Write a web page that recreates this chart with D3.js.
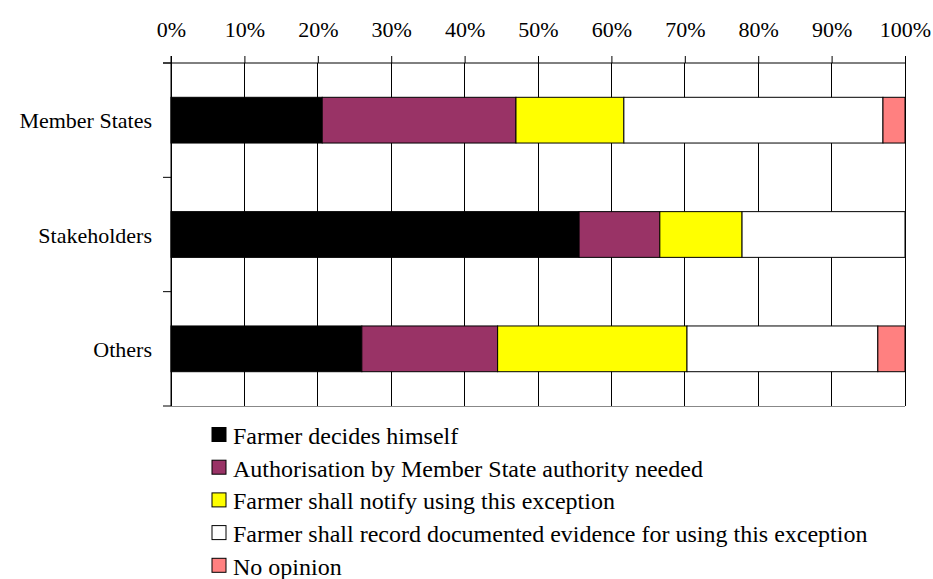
<!DOCTYPE html>
<html>
<head>
<meta charset="utf-8">
<script src="https://cdn.jsdelivr.net/npm/d3@7"></script>
<style>
  body { margin: 0; background: #fff; }
  svg { display: block; font-family: "Liberation Serif", "Times New Roman", serif; }
</style>
</head>
<body>
<div class="root"></div>
<script>
var categories = ['Member States', 'Stakeholders', 'Others'];
var seriesNames = [
  'Farmer decides himself',
  'Authorisation by Member State authority needed',
  'Farmer shall notify using this exception',
  'Farmer shall record documented evidence for using this exception',
  'No opinion'
];
var seriesColors = ['#000000', '#993366', '#ffff00', '#ffffff', '#ff8080'];

// percent per category, in series order
var farmerDecides = [20.6, 55.6, 26.0];
var authorisation = [26.4, 11.0, 18.5];
var notify        = [14.7, 11.2, 25.8];
var record        = [35.3, 22.2, 26.0];
var noOpinion     = [3.0, 0.0, 3.7];

var tickValues = [0, 10, 20, 30, 40, 50, 60, 70, 80, 90, 100];

var w = 933, h = 579;
var mLeft = 171, mRight = 905, mTop = 63, mBottom = 406;
var axisFont = 22, legendFont = 24;

var rows = categories.map(function(c, i) {
  return { cat: c, s0: farmerDecides[i], s1: authorisation[i], s2: notify[i], s3: record[i], s4: noOpinion[i] };
});
var keys = ['s0', 's1', 's2', 's3', 's4'];
var stacked = d3.stack().keys(keys)(rows);

var x = d3.scaleLinear().domain([0, 100]).range([mLeft, mRight]);
var y = d3.scaleBand().domain(categories).range([mTop, mBottom]).paddingInner(0.6).paddingOuter(0.3);
var yOuter = d3.scaleBand().domain(categories).range([mTop, mBottom]);

var svg = d3.select('.root').append('svg')
  .attr('width', w)
  .attr('height', h);

// vertical gridlines
svg.append('g')
  .selectAll('line')
  .data(tickValues)
  .enter().append('line')
    .attr('x1', function(d) { return x(d); })
    .attr('x2', function(d) { return x(d); })
    .attr('y1', mTop)
    .attr('y2', mBottom)
    .attr('stroke', '#000')
    .attr('stroke-width', 1)
    .attr('shape-rendering', 'crispEdges');

// bottom line
svg.append('line')
  .attr('x1', mLeft).attr('x2', mRight)
  .attr('y1', mBottom).attr('y2', mBottom)
  .attr('stroke', '#888')
  .attr('shape-rendering', 'crispEdges');

// bars
svg.append('g')
  .selectAll('g')
  .data(stacked)
  .enter().append('g')
    .attr('fill', function(d, i) { return seriesColors[i]; })
  .selectAll('rect')
  .data(function(d) { return d.filter(function(p) { return p[1] - p[0] > 0; }); })
  .enter().append('rect')
    .attr('x', function(d) { return x(d[0]); })
    .attr('width', function(d) { return x(d[1]) - x(d[0]); })
    .attr('y', function(d) { return y(d.data.cat); })
    .attr('height', y.bandwidth())
    .attr('stroke', '#000')
    .attr('stroke-width', 1);

// top axis
var xAxis = d3.axisTop(x)
  .tickValues(tickValues)
  .tickFormat(function(d) { return d + '%'; })
  .tickSize(7)
  .tickPadding(19);

var gx = svg.append('g')
  .attr('transform', 'translate(0,' + mTop + ')')
  .call(xAxis);
gx.select('.domain').attr('stroke', '#000').attr('d', 'M' + (mLeft - 8) + ',0H' + mRight);
gx.selectAll('text')
  .attr('font-size', axisFont)
  .attr('font-family', '"Liberation Serif", serif')
  .attr('fill', '#000');

// left axis: ticks at band boundaries
var gy = svg.append('g');
gy.append('line')
  .attr('x1', mLeft).attr('x2', mLeft)
  .attr('y1', mTop - 7).attr('y2', mBottom)
  .attr('stroke', '#000');
gy.selectAll('line.tk')
  .data(categories.concat(['_end']))
  .enter().append('line')
    .attr('class', 'tk')
    .attr('x1', mLeft - 8).attr('x2', mLeft)
    .attr('y1', function(d) { return d === '_end' ? mBottom : yOuter(d); })
    .attr('y2', function(d) { return d === '_end' ? mBottom : yOuter(d); })
    .attr('stroke', '#000');
gy.selectAll('text')
  .data(categories)
  .enter().append('text')
    .attr('x', mLeft - 19)
    .attr('y', function(d) { return y(d) + y.bandwidth() / 2 + 8; })
    .attr('text-anchor', 'end')
    .attr('font-size', axisFont)
    .text(function(d) { return d; });

// legend
var legend = svg.append('g')
  .selectAll('g')
  .data(seriesNames)
  .enter().append('g')
    .attr('transform', function(d, i) { return 'translate(212,' + (427.5 + i * 32.7) + ')'; });
legend.append('rect')
  .attr('width', 14)
  .attr('height', 14)
  .attr('fill', function(d, i) { return seriesColors[i]; })
  .attr('stroke', '#000');
legend.append('text')
  .attr('x', 21)
  .attr('y', 16.5)
  .attr('font-size', legendFont)
  .text(function(d) { return d; });
</script>
</body>
</html>
